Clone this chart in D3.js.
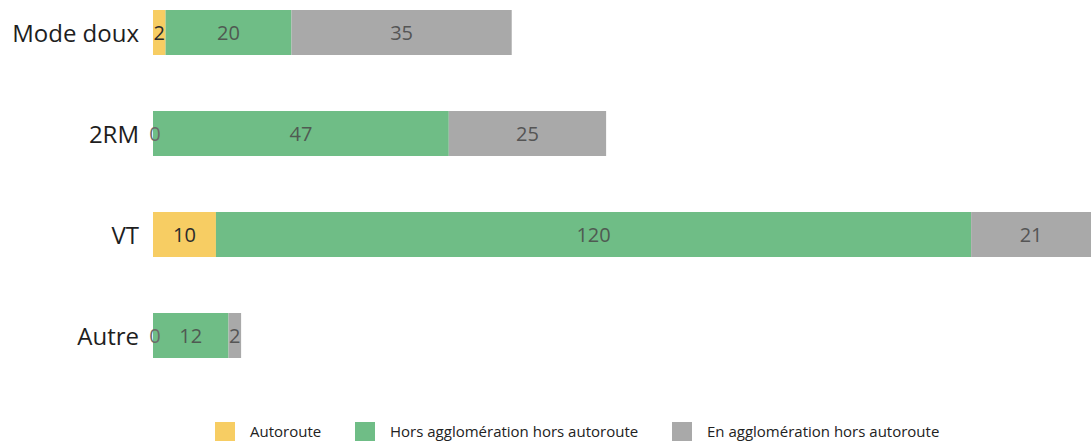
<!DOCTYPE html>
<html><head><meta charset="utf-8">
<script src="https://cdn.jsdelivr.net/npm/d3@7"></script>
<style>body{margin:0;background:#fff;}svg{display:block;}</style>
</head><body>
<svg id="c" width="1091" height="441"></svg>
<script>
const categories = ["Mode doux", "2RM", "VT", "Autre"];
const seriesNames = ["Autoroute", "Hors agglomération hors autoroute", "En agglomération hors autoroute"];
const autoroute = [2, 0, 10, 0];
const horsAgglo = [20, 47, 120, 12];
const enAgglo = [35, 25, 21, 2];
const colors = ["#f7cd63", "#6fbd86", "#a9a9a9"];
const labelColors = ["#2b2b2b", "#4f5a52", "#555555"];

const svg = d3.select("#c");
const x = d3.scaleLinear().domain([0, 150]).range([153, 1097]);
const y = d3.scalePoint().domain(categories).range([32.5, 335.5]);
const barH = 45;

const rows = categories.map((c, i) => ({cat: c, vals: [autoroute[i], horsAgglo[i], enAgglo[i]]}));
const stack = d3.stack().keys([0,1,2]).value((d, k) => d.vals[k]);
const layers = stack(rows);

layers.forEach((layer, k) => {
  const g = svg.append("g");
  g.selectAll("rect").data(layer).join("rect")
    .attr("x", d => x(d[0]))
    .attr("y", d => y(d.data.cat) - barH/2)
    .attr("width", d => x(d[1]) - x(d[0]))
    .attr("height", barH)
    .attr("fill", colors[k]);
});
layers.forEach((layer, k) => {
  svg.append("g").selectAll("text").data(layer).join("text")
    .attr("x", d => d[1] === d[0] ? x(d[0]) + 2 : (x(d[0]) + Math.min(x(d[1]), 1091)) / 2)
    .attr("y", d => y(d.data.cat) + 7)
    .attr("text-anchor", "middle")
    .attr("font-family", "'Open Sans', sans-serif")
    .attr("font-size", 20)
    .attr("fill", d => d[1] === d[0] ? "#6a6a6a" : labelColors[k])
    .text(d => d[1] - d[0]);
});

// category axis
const yAxis = d3.axisLeft(y).tickSize(0).tickPadding(0);
const ag = svg.append("g").attr("transform", "translate(139,0)").call(yAxis);
ag.select(".domain").remove();
ag.selectAll("text")
  .attr("font-family", "'Open Sans', sans-serif")
  .attr("font-size", 24)
  .attr("fill", "#1e1e1e")
  .attr("dy", "0.36em");

// legend
const legendX = [215, 355, 672];
const lg = svg.append("g");
seriesNames.forEach((n, k) => {
  lg.append("rect").attr("x", legendX[k]).attr("y", 422).attr("width", 20).attr("height", 19).attr("fill", colors[k]);
  lg.append("text").attr("x", legendX[k] + 35).attr("y", 437)
    .attr("font-family", "'Open Sans', sans-serif").attr("font-size", 15)
    .attr("fill", "#222").text(n);
});
</script>
</body></html>
